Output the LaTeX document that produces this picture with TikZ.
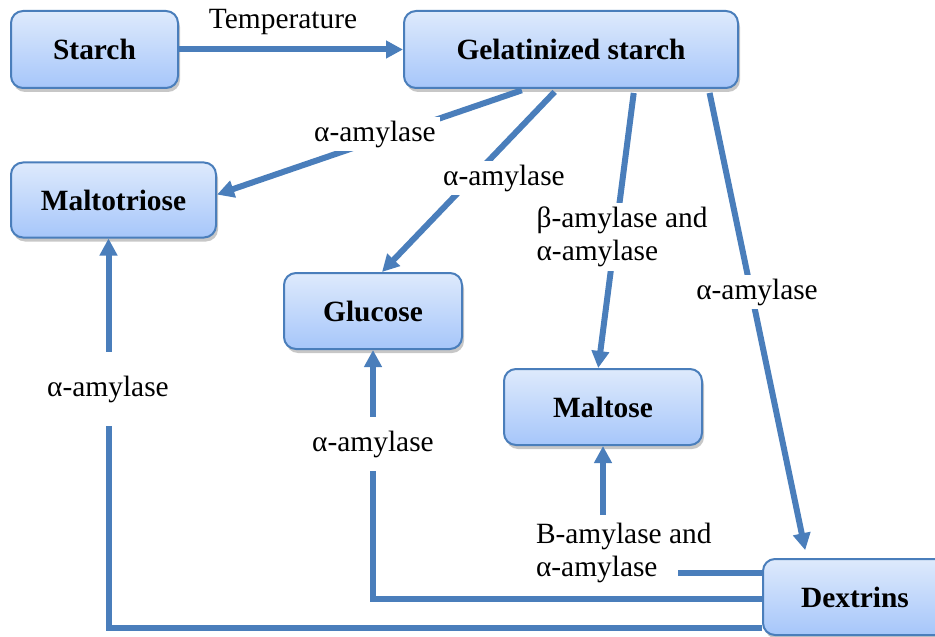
\documentclass[tikz,border=0pt]{standalone}
\usepackage{fontspec}
\setmainfont{Liberation Serif}
\usetikzlibrary{arrows.meta,shadows}
\definecolor{boxline}{RGB}{74,126,187}
\definecolor{boxtop}{RGB}{222,234,252}
\definecolor{boxbottom}{RGB}{166,198,250}
\begin{document}
\begin{tikzpicture}[x=0.5pt, y=-0.5pt, line width=3pt,
main node/.style={rectangle,rounded corners=6pt,draw=boxline,line width=1pt,top color=boxtop,bottom color=boxbottom,drop shadow={shadow xshift=1pt,shadow yshift=-2pt,fill=black!22,opacity=1},font=\fontsize{14.7}{16.5}\selectfont\bfseries},
arrow line/.style={draw=boxline,-{Triangle[length=8.5pt,width=8.5pt]}},
label node/.style={fill=white,inner sep=2pt,font=\fontsize{14.7}{16.5}\selectfont}]
\useasboundingbox (0,0) rectangle (935,636);
\begin{scope}
\node[main node, minimum width=83.5pt, minimum height=38.5pt] (starch) at (94.5,49.5) {Starch};
\node[main node, minimum width=167pt, minimum height=38.5pt] (gel) at (571,49.5) {Gelatinized starch};
\node[main node, minimum width=102.5pt, minimum height=37.5pt] (maltotriose) at (113.5,200) {Maltotriose};
\node[main node, minimum width=89pt, minimum height=38pt] (glucose) at (373,311) {Glucose};
\node[main node, minimum width=99pt, minimum height=38pt] (maltose) at (603,407) {Maltose};
\node[main node, minimum width=92pt, minimum height=38pt] (dextrins) at (855,597) {Dextrins};
%\node[main node] () at (,) {};
\end{scope}
\begin{scope}
\draw[arrow line] (starch) -- (gel);
\draw[arrow line, shorten <=2pt] (gel.221) -- (maltotriose.3);
\draw[arrow line, shorten <=2pt] (gel.251) -- (glucose.77);
\draw[arrow line, shorten <=2pt] (gel.328) -- (maltose.97);
\draw[arrow line, shorten <=2pt, shorten >=4pt] (gel.344) -- (dextrins.141);
\draw[arrow line] ([yshift=12pt]dextrins.west) -| (maltose.south);
\draw[arrow line] ([yshift=-1pt]dextrins.west) -| (glucose.south);
\draw[arrow line] ([yshift=-15.5pt]dextrins.west) -| ([xshift=-2.5pt]maltotriose.south);
\end{scope}
\begin{scope}
\node[label node, fill=none] (temp) at (283,22) {Temperature};
\node[label node] (amy1) at (375,134) {α-amylase};
\node[label node] (amy2) at (504,178) {α-amylase};
\node[label node, align=left] (amy3) at (622,237) {β-amylase and\\α-amylase};
\node[label node] (amy4) at (757,292) {α-amylase};
\node[label node, inner ysep=12pt] (amy5) at (108,389) {α-amylase};
\node[label node, inner ysep=7pt] (amy6) at (373,444) {α-amylase};
\node[label node, anchor=west, inner xsep=1pt, inner ysep=4pt] (amy7) at (531,536) {B-amylase and};
\node[label node, anchor=west, inner xsep=1pt, inner ysep=3pt, text width=70pt, align=left] (amy8) at (531,569) {α-amylase};
\end{scope}
\end{tikzpicture}
\end{document}
